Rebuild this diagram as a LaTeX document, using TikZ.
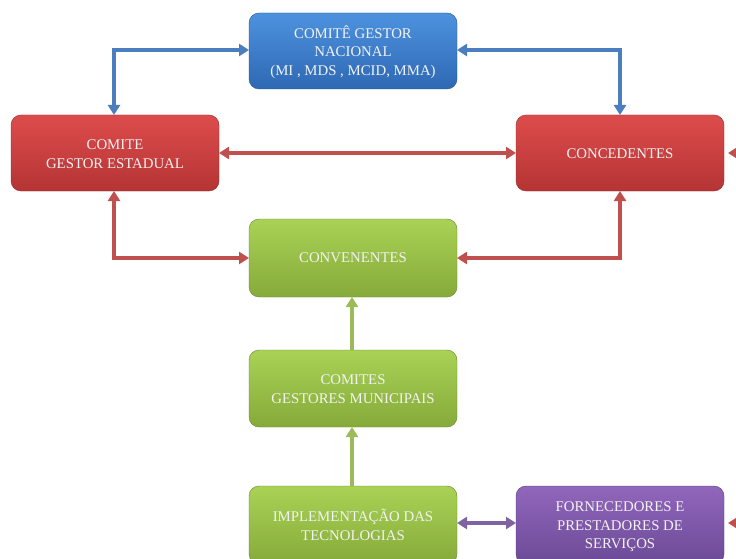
\documentclass[tikz,border=0pt]{standalone}
\usepackage{fontspec}
\setmainfont{Liberation Serif}
\usetikzlibrary{arrows.meta,calc}
\definecolor{bluetop}{HTML}{4D92DE}
\definecolor{bluebot}{HTML}{2E68B4}
\definecolor{redtop}{HTML}{DD4C4C}
\definecolor{redbot}{HTML}{B53434}
\definecolor{greentop}{HTML}{A9D255}
\definecolor{greenbot}{HTML}{86AA3A}
\definecolor{purptop}{HTML}{9166BC}
\definecolor{purpbot}{HTML}{6C4A96}
\definecolor{lblue}{HTML}{4A7EBF}
\definecolor{lred}{HTML}{C0504D}
\definecolor{lgreen}{HTML}{9BBB59}
\definecolor{lpurp}{HTML}{8064A2}
\definecolor{txt}{HTML}{F2F2F2}
\tikzset{
  box/.style={rounded corners=10pt, text=txt, align=center,
    font=\fontsize{14.8}{18.5}\selectfont, inner sep=0pt},
  bluebox/.style={box, top color=bluetop, bottom color=bluebot, draw=bluebot!80!black, line width=0.4pt},
  redbox/.style={box, top color=redtop, bottom color=redbot, draw=redbot!80!black, line width=0.4pt},
  greenbox/.style={box, top color=greentop, bottom color=greenbot, draw=greenbot!80!black, line width=0.4pt},
  purpbox/.style={box, top color=purptop, bottom color=purpbot, draw=purpbot!80!black, line width=0.4pt},
  conn/.style={line width=3.5pt, {Triangle[width=12pt,length=10pt]}-{Triangle[width=12pt,length=10pt]}},
  oneway/.style={line width=3.5pt, -{Triangle[width=12pt,length=10pt]}},
}
\begin{document}
\begin{tikzpicture}[x=1pt,y=-1pt]
\clip (0,0) rectangle (736,559);
\fill[white] (0,0) rectangle (736,559);
% boxes
\path[bluebox] (249,13) rectangle (457,89);
\node[box] (nac) at (353,52) {COMITÊ GESTOR\\NACIONAL\\(MI , MDS , MCID, MMA)};
\path[redbox] (11,115) rectangle (219,191);
\node[box] (est) at (115,154) {COMITE\\GESTOR ESTADUAL};
\path[redbox] (516,115) rectangle (724,191);
\node[box] (con) at (620,154) {CONCEDENTES};
\path[greenbox] (249,219) rectangle (457,297);
\node[box] (cnv) at (353,258) {CONVENENTES};
\path[greenbox] (249,350) rectangle (457,427);
\node[box] (mun) at (353,389) {COMITES\\GESTORES MUNICIPAIS};
\path[greenbox] (249,486) rectangle (457,564);
\node[box] (imp) at (353,525) {IMPLEMENTAÇÃO DAS\\TECNOLOGIAS};
\path[purpbox] (516,486) rectangle (724,564);
\node[box] (for) at (620,527) {FORNECEDORES E\\PRESTADORES DE\\SERVIÇOS};
% anchor coordinates
\coordinate (nacL) at (249,50);
\coordinate (nacR) at (457,50);
\coordinate (estT) at (114,115);
\coordinate (conT) at (620,115);
\coordinate (estR) at (219,153);
\coordinate (conL) at (516,153);
\coordinate (estB) at (114,191);
\coordinate (conB) at (620,191);
\coordinate (cnvL) at (249,258);
\coordinate (cnvR) at (457,258);
\coordinate (cnvB) at (352,297);
\coordinate (munT) at (352,350);
\coordinate (munB) at (352,427);
\coordinate (impT) at (352,486);
\coordinate (impR) at (457,523);
\coordinate (forL) at (516,523);
\coordinate (conR) at (724,153);
\coordinate (forR) at (724,523);
\coordinate (edge1) at (760,153);
\coordinate (edge2) at (760,523);
% connectors
\draw[conn, lblue] (nacL) -| (estT);
\draw[conn, lblue] (nacR) -| (conT);
\draw[conn, lred] (estR) -- (conL);
\draw[conn, lred] (estB) |- (cnvL);
\draw[conn, lred] (conB) |- (cnvR);
\draw[oneway, lgreen] (munT) -- (cnvB);
\draw[oneway, lgreen] (impT) -- (munB);
\draw[conn, lpurp] (impR) -- (forL);
\draw[oneway, lred] (edge1) -- ($(conR)+(4,0)$);
\draw[oneway, lred] (edge2) -- ($(forR)+(4,0)$);
\end{tikzpicture}
\end{document}
